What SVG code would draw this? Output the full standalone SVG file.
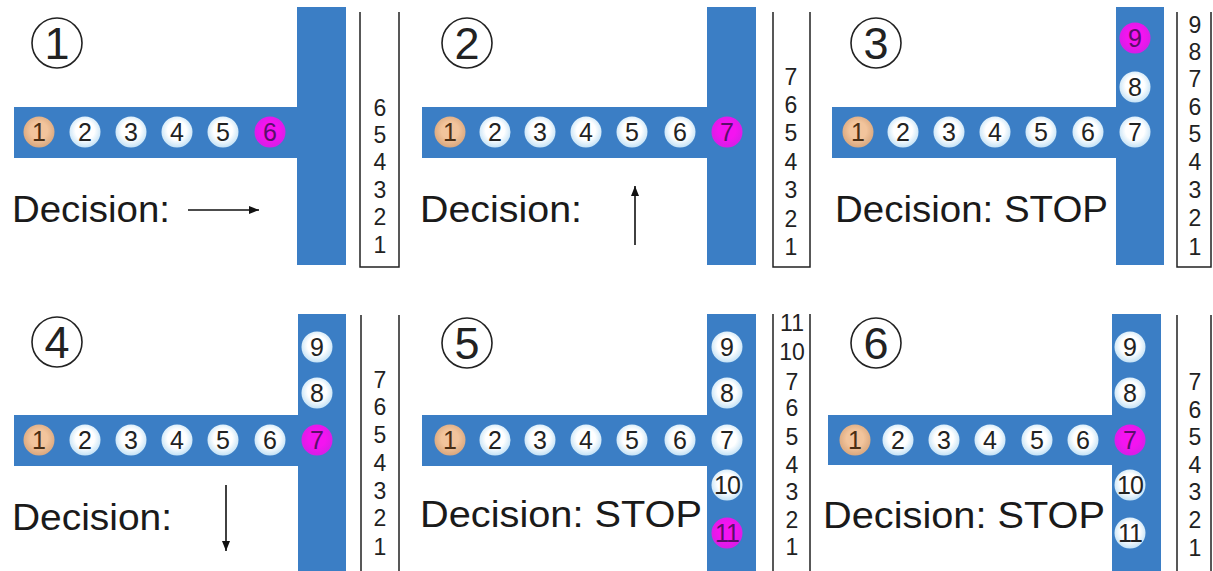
<svg xmlns="http://www.w3.org/2000/svg" width="1213" height="571" viewBox="0 0 1213 571">
<defs>
<radialGradient id="gw" cx="50%" cy="45%" r="55%"><stop offset="0.55" stop-color="#ffffff"/><stop offset="1" stop-color="#c4e2f6"/></radialGradient>
<radialGradient id="go" cx="50%" cy="45%" r="55%"><stop offset="0.5" stop-color="#f2c49c"/><stop offset="1" stop-color="#d9a77e"/></radialGradient>
<radialGradient id="gm" cx="50%" cy="45%" r="55%"><stop offset="0.5" stop-color="#f414f0"/><stop offset="1" stop-color="#d61ee6"/></radialGradient>
<marker id="ah" viewBox="0 0 10 8" refX="10" refY="4" markerWidth="10" markerHeight="8" markerUnits="userSpaceOnUse" orient="auto"><path d="M0,0 L10,4 L0,8 Z" fill="#111"/></marker>
</defs>
<style>
.bar{fill:#3b7ec5}
.w circle{fill:url(#gw)}
.o circle{fill:url(#go)}
.m circle{fill:url(#gm)}
.n text{font-family:"Liberation Sans",Arial,sans-serif;font-size:25px;text-anchor:middle;fill:#222}
.o text{fill:#4a2e14}
.m text{fill:#5a0f6a}
.big text{font-size:25px;letter-spacing:-1px}
.lab circle{fill:none;stroke:#222;stroke-width:1.6}
.lab text{font-family:"Liberation Sans",Arial,sans-serif;font-size:45px;text-anchor:middle;fill:#222}
.dec{font-family:"Liberation Sans",Arial,sans-serif;font-size:36px;fill:#1a1a1a}
.box{fill:none;stroke:#222;stroke-width:1.5}
.stk{font-family:"Liberation Sans",Arial,sans-serif;font-size:23px;text-anchor:middle;fill:#222}
.arr{stroke:#111;stroke-width:1.6;fill:none;marker-end:url(#ah)}
</style>
<rect width="1213" height="571" fill="#ffffff"/>

<!-- Panel 1 -->
<g id="panel1">
<rect class="bar" x="14" y="107" width="284" height="51"/>
<rect class="bar" x="297" y="7" width="49" height="258"/>
<g id="p1-label" class="lab"><circle cx="57" cy="43" r="25"/><text x="57" y="59">1</text></g>
<g id="p1-n1" class="n o"><circle cx="39" cy="132" r="15.5"/><text x="39" y="141">1</text></g>
<g id="p1-n2" class="n w"><circle cx="85" cy="132" r="15.5"/><text x="85" y="141">2</text></g>
<g id="p1-n3" class="n w"><circle cx="131" cy="132" r="15.5"/><text x="131" y="141">3</text></g>
<g id="p1-n4" class="n w"><circle cx="177" cy="132" r="15.5"/><text x="177" y="141">4</text></g>
<g id="p1-n5" class="n w"><circle cx="223" cy="132" r="15.5"/><text x="223" y="141">5</text></g>
<g id="p1-n6" class="n m"><circle cx="270" cy="132" r="15.5"/><text x="270" y="141">6</text></g>
<text class="dec" x="12" y="222" textLength="158" lengthAdjust="spacingAndGlyphs">Decision:</text>
<g id="p1-stack"><path class="box" d="M360,12 V267 H399 V12"/>
<text class="stk" x="380" y="116">6</text><text class="stk" x="380" y="143">5</text><text class="stk" x="380" y="170">4</text><text class="stk" x="380" y="198">3</text><text class="stk" x="380" y="225">2</text><text class="stk" x="380" y="253">1</text></g>
</g>

<!-- Panel 2 -->
<g id="panel2">
<rect class="bar" x="422" y="107" width="286" height="51"/>
<rect class="bar" x="707" y="7" width="49" height="258"/>
<g id="p2-label" class="lab"><circle cx="467" cy="43" r="25"/><text x="467" y="59">2</text></g>
<g id="p2-n1" class="n o"><circle cx="450" cy="132" r="15.5"/><text x="450" y="141">1</text></g>
<g id="p2-n2" class="n w"><circle cx="495" cy="132" r="15.5"/><text x="495" y="141">2</text></g>
<g id="p2-n3" class="n w"><circle cx="540" cy="132" r="15.5"/><text x="540" y="141">3</text></g>
<g id="p2-n4" class="n w"><circle cx="586" cy="132" r="15.5"/><text x="586" y="141">4</text></g>
<g id="p2-n5" class="n w"><circle cx="632" cy="132" r="15.5"/><text x="632" y="141">5</text></g>
<g id="p2-n6" class="n w"><circle cx="680" cy="132" r="15.5"/><text x="680" y="141">6</text></g>
<g id="p2-n7" class="n m"><circle cx="727" cy="132" r="15.5"/><text x="727" y="141">7</text></g>
<text class="dec" x="420" y="222" textLength="162" lengthAdjust="spacingAndGlyphs">Decision:</text>
<g id="p2-stack"><path class="box" d="M773,12 V267 H810 V12"/>
<text class="stk" x="791" y="85">7</text><text class="stk" x="791" y="113">6</text><text class="stk" x="791" y="141">5</text><text class="stk" x="791" y="170">4</text><text class="stk" x="791" y="198">3</text><text class="stk" x="791" y="227">2</text><text class="stk" x="791" y="255">1</text></g>
</g>

<!-- Panel 3 -->
<g id="panel3">
<rect class="bar" x="832" y="107" width="285" height="51"/>
<rect class="bar" x="1116" y="7" width="48" height="258"/>
<g id="p3-label" class="lab"><circle cx="876" cy="43" r="25"/><text x="876" y="59">3</text></g>
<g id="p3-n1" class="n o"><circle cx="858" cy="132" r="15.5"/><text x="858" y="141">1</text></g>
<g id="p3-n2" class="n w"><circle cx="903" cy="132" r="15.5"/><text x="903" y="141">2</text></g>
<g id="p3-n3" class="n w"><circle cx="949" cy="132" r="15.5"/><text x="949" y="141">3</text></g>
<g id="p3-n4" class="n w"><circle cx="995" cy="132" r="15.5"/><text x="995" y="141">4</text></g>
<g id="p3-n5" class="n w"><circle cx="1041" cy="132" r="15.5"/><text x="1041" y="141">5</text></g>
<g id="p3-n6" class="n w"><circle cx="1088" cy="132" r="15.5"/><text x="1088" y="141">6</text></g>
<g id="p3-n7" class="n w"><circle cx="1135" cy="132" r="15.5"/><text x="1135" y="141">7</text></g>
<g id="p3-n8" class="n w"><circle cx="1135" cy="87" r="15.5"/><text x="1135" y="96">8</text></g>
<g id="p3-n9" class="n m"><circle cx="1135" cy="38" r="15.5"/><text x="1135" y="47">9</text></g>
<text class="dec" x="835" y="222" textLength="273" lengthAdjust="spacingAndGlyphs">Decision: STOP</text>
<g id="p3-stack"><path class="box" d="M1177,12 V267 H1211 V12"/>
<text class="stk" x="1195" y="33">9</text><text class="stk" x="1195" y="60">8</text><text class="stk" x="1195" y="87">7</text><text class="stk" x="1195" y="115">6</text><text class="stk" x="1195" y="142">5</text><text class="stk" x="1195" y="170">4</text><text class="stk" x="1195" y="198">3</text><text class="stk" x="1195" y="226">2</text><text class="stk" x="1195" y="255">1</text></g>
</g>

<!-- Panel 4 -->
<g id="panel4">
<rect class="bar" x="14" y="415" width="285" height="51"/>
<rect class="bar" x="298" y="314" width="48" height="257"/>
<g id="p4-label" class="lab"><circle cx="57" cy="342" r="25"/><text x="57" y="358">4</text></g>
<g id="p4-n1" class="n o"><circle cx="39" cy="440" r="15.5"/><text x="39" y="449">1</text></g>
<g id="p4-n2" class="n w"><circle cx="85" cy="440" r="15.5"/><text x="85" y="449">2</text></g>
<g id="p4-n3" class="n w"><circle cx="131" cy="440" r="15.5"/><text x="131" y="449">3</text></g>
<g id="p4-n4" class="n w"><circle cx="177" cy="440" r="15.5"/><text x="177" y="449">4</text></g>
<g id="p4-n5" class="n w"><circle cx="223" cy="440" r="15.5"/><text x="223" y="449">5</text></g>
<g id="p4-n6" class="n w"><circle cx="270" cy="440" r="15.5"/><text x="270" y="449">6</text></g>
<g id="p4-n7" class="n m"><circle cx="317" cy="440" r="15.5"/><text x="317" y="449">7</text></g>
<g id="p4-n8" class="n w"><circle cx="317" cy="393" r="15.5"/><text x="317" y="402">8</text></g>
<g id="p4-n9" class="n w"><circle cx="317" cy="347" r="15.5"/><text x="317" y="356">9</text></g>
<text class="dec" x="12" y="530" textLength="160" lengthAdjust="spacingAndGlyphs">Decision:</text>
<g id="p4-stack"><path class="box" d="M361,315 V571 M399,315 V571"/>
<text class="stk" x="380" y="388">7</text><text class="stk" x="380" y="415">6</text><text class="stk" x="380" y="443">5</text><text class="stk" x="380" y="471">4</text><text class="stk" x="380" y="499">3</text><text class="stk" x="380" y="526">2</text><text class="stk" x="380" y="555">1</text></g>
</g>

<!-- Panel 5 -->
<g id="panel5">
<rect class="bar" x="422" y="415" width="286" height="51"/>
<rect class="bar" x="707" y="314" width="49" height="257"/>
<g id="p5-label" class="lab"><circle cx="467" cy="343" r="25"/><text x="467" y="359">5</text></g>
<g id="p5-n1" class="n o"><circle cx="450" cy="440" r="15.5"/><text x="450" y="449">1</text></g>
<g id="p5-n2" class="n w"><circle cx="495" cy="440" r="15.5"/><text x="495" y="449">2</text></g>
<g id="p5-n3" class="n w"><circle cx="540" cy="440" r="15.5"/><text x="540" y="449">3</text></g>
<g id="p5-n4" class="n w"><circle cx="586" cy="440" r="15.5"/><text x="586" y="449">4</text></g>
<g id="p5-n5" class="n w"><circle cx="632" cy="440" r="15.5"/><text x="632" y="449">5</text></g>
<g id="p5-n6" class="n w"><circle cx="680" cy="440" r="15.5"/><text x="680" y="449">6</text></g>
<g id="p5-n7" class="n w"><circle cx="727" cy="440" r="15.5"/><text x="727" y="449">7</text></g>
<g id="p5-n8" class="n w"><circle cx="727" cy="393" r="15.5"/><text x="727" y="402">8</text></g>
<g id="p5-n9" class="n w"><circle cx="727" cy="347" r="15.5"/><text x="727" y="356">9</text></g>
<g id="p5-n10" class="n w big"><circle cx="727" cy="485" r="15.5"/><text x="727" y="494">10</text></g>
<g id="p5-n11" class="n m big"><circle cx="727" cy="533" r="15.5"/><text x="727" y="542">11</text></g>
<text class="dec" x="420" y="527" textLength="282" lengthAdjust="spacingAndGlyphs">Decision: STOP</text>
<g id="p5-stack"><path class="box" d="M773,314 V571 M810,314 V571"/>
<text class="stk" x="792" y="331">11</text><text class="stk" x="792" y="360">10</text><text class="stk" x="792" y="390">7</text><text class="stk" x="792" y="416">6</text><text class="stk" x="792" y="445">5</text><text class="stk" x="792" y="473">4</text><text class="stk" x="792" y="500">3</text><text class="stk" x="792" y="528">2</text><text class="stk" x="792" y="555">1</text></g>
</g>

<!-- Panel 6 -->
<g id="panel6">
<rect class="bar" x="828" y="415" width="285" height="50"/>
<rect class="bar" x="1112" y="314" width="49" height="257"/>
<g id="p6-label" class="lab"><circle cx="876" cy="343" r="25"/><text x="876" y="359">6</text></g>
<g id="p6-n1" class="n o"><circle cx="855" cy="440" r="15.5"/><text x="855" y="449">1</text></g>
<g id="p6-n2" class="n w"><circle cx="898" cy="440" r="15.5"/><text x="898" y="449">2</text></g>
<g id="p6-n3" class="n w"><circle cx="944" cy="440" r="15.5"/><text x="944" y="449">3</text></g>
<g id="p6-n4" class="n w"><circle cx="990" cy="440" r="15.5"/><text x="990" y="449">4</text></g>
<g id="p6-n5" class="n w"><circle cx="1037" cy="440" r="15.5"/><text x="1037" y="449">5</text></g>
<g id="p6-n6" class="n w"><circle cx="1083" cy="440" r="15.5"/><text x="1083" y="449">6</text></g>
<g id="p6-n7" class="n m"><circle cx="1130" cy="440" r="15.5"/><text x="1130" y="449">7</text></g>
<g id="p6-n8" class="n w"><circle cx="1130" cy="393" r="15.5"/><text x="1130" y="402">8</text></g>
<g id="p6-n9" class="n w"><circle cx="1130" cy="347" r="15.5"/><text x="1130" y="356">9</text></g>
<g id="p6-n10" class="n w big"><circle cx="1130" cy="485" r="15.5"/><text x="1130" y="494">10</text></g>
<g id="p6-n11" class="n w big"><circle cx="1130" cy="533" r="15.5"/><text x="1130" y="542">11</text></g>
<text class="dec" x="823" y="528" textLength="282" lengthAdjust="spacingAndGlyphs">Decision: STOP</text>
<g id="p6-stack"><path class="box" d="M1177,315 V571 M1211,315 V571"/>
<text class="stk" x="1195" y="390">7</text><text class="stk" x="1195" y="418">6</text><text class="stk" x="1195" y="445">5</text><text class="stk" x="1195" y="473">4</text><text class="stk" x="1195" y="500">3</text><text class="stk" x="1195" y="528">2</text><text class="stk" x="1195" y="556">1</text></g>
</g>

<g id="connectors">
<line class="arr" x1="188" y1="210" x2="259" y2="210"/>
<line class="arr" x1="635" y1="245" x2="635" y2="186"/>
<line class="arr" x1="226" y1="485" x2="226" y2="551"/>
</g>
</svg>
